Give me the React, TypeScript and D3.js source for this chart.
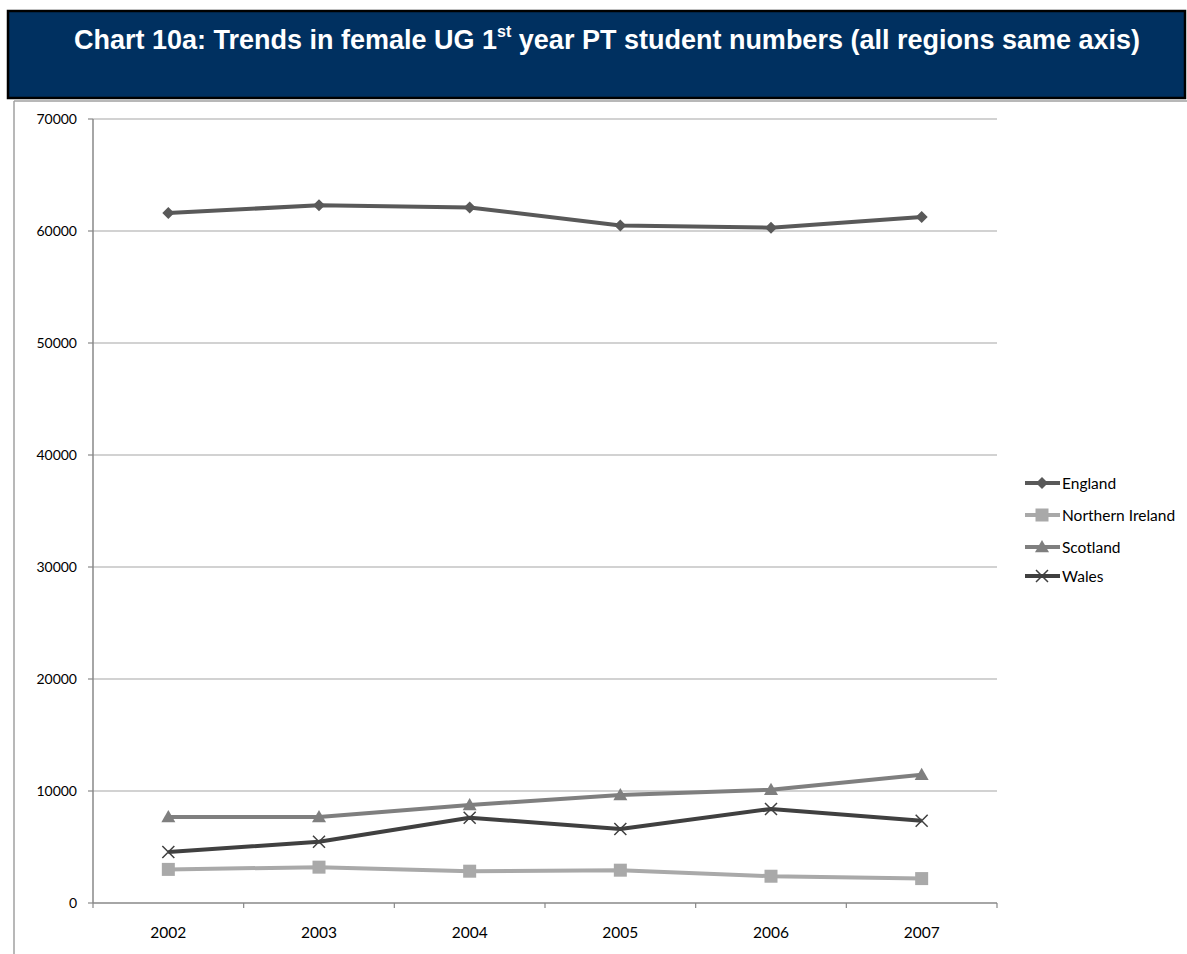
import React from "react";
import * as d3 from "d3";

const years = ["2002", "2003", "2004", "2005", "2006", "2007"];
const england = [61600, 62300, 62100, 60500, 60300, 61250];
const northernIreland = [3000, 3200, 2840, 2930, 2390, 2180];
const scotland = [7680, 7680, 8750, 9650, 10120, 11450];
const wales = [4550, 5470, 7620, 6600, 8400, 7340];
const yTicks = [0, 10000, 20000, 30000, 40000, 50000, 60000, 70000];

const seriesNames = ["England", "Northern Ireland", "Scotland", "Wales"];
const seriesColors = ["#595959", "#a9a9a9", "#7f7f7f", "#404040"];
const seriesMarkers = ["diamond", "square", "triangle", "cross"];

const W = 1187;
const H = 954;
const left = 93;
const right = 997;
const top = 119;
const bottom = 903;

function Marker({ kind, x, y, color }: { kind: string; x: number; y: number; color: string }) {
  if (kind === "diamond") {
    const s = 6;
    return <path d={`M${x},${y - s}L${x + s},${y}L${x},${y + s}L${x - s},${y}Z`} fill={color} />;
  }
  if (kind === "square") {
    const s = 6.5;
    return <rect x={x - s} y={y - s} width={2 * s} height={2 * s} fill={color} />;
  }
  if (kind === "triangle") {
    const s = 7;
    return <path d={`M${x},${y - s}L${x + s},${y + s * 0.75}L${x - s},${y + s * 0.75}Z`} fill={color} />;
  }
  const s = 6;
  return (
    <path
      d={`M${x - s},${y - s}L${x + s},${y + s}M${x - s},${y + s}L${x + s},${y - s}`}
      stroke={color}
      strokeWidth={1.5}
      fill="none"
    />
  );
}

export default function App() {
  const x = d3.scaleBand<string>().domain(years).range([left, right]).padding(0);
  const y = d3.scaleLinear().domain([0, 70000]).range([bottom, top]);
  const cx = (yr: string) => (x(yr) as number) + x.bandwidth() / 2;
  const data = [england, northernIreland, scotland, wales];
  const line = d3
    .line<number>()
    .x((_, i) => cx(years[i]))
    .y((d) => y(d));

  const legendY = [483, 515, 547, 576];
  const font = "Lato, 'Open Sans', sans-serif";

  return (
    <svg
      width={W}
      height={H}
      style={{ position: "absolute", left: 0, top: 0, background: "#fff" }}
    >
      {/* title banner */}
      <rect x={8} y={11} width={1177} height={87} fill="#003060" stroke="#000" strokeWidth={2.5} />
      <text
        x={607}
        y={49}
        textAnchor="middle"
        fill="#fff"
        fontFamily="'Liberation Sans', Arial, sans-serif"
        fontWeight="bold"
        fontSize={27}
      >
        Chart 10a: Trends in female UG 1
        <tspan fontSize={16} dy={-12}>st</tspan>
        <tspan dy={12}> year PT student numbers (all regions same axis)</tspan>
      </text>

      {/* chart area border */}
      <line x1={14} y1={101} x2={W} y2={101} stroke="#a0a0a0" strokeWidth={1.5} />
      <line x1={14} y1={101} x2={14} y2={H} stroke="#a0a0a0" strokeWidth={1.5} />

      {/* gridlines */}
      {yTicks.map((t) => (
        <g key={t}>
          {t > 0 && <line x1={left} x2={right} y1={y(t)} y2={y(t)} stroke="#a6a6a6" strokeWidth={1.2} />}
          <line x1={left - 5} x2={left} y1={y(t)} y2={y(t)} stroke="#888" strokeWidth={1.2} />
          <text
            x={77}
            y={y(t) + 5}
            textAnchor="end"
            fontFamily={font}
            fontSize={14}
            fill="#000"
          >
            {t}
          </text>
        </g>
      ))}

      {/* axes */}
      <line x1={left} x2={left} y1={top} y2={bottom} stroke="#888" strokeWidth={1.5} />
      <line x1={left} x2={right} y1={bottom} y2={bottom} stroke="#888" strokeWidth={1.5} />
      {years.map((yr) => (
        <line
          key={"t" + yr}
          x1={x(yr) as number}
          x2={x(yr) as number}
          y1={bottom}
          y2={bottom + 5}
          stroke="#888"
          strokeWidth={1.2}
        />
      ))}
      <line x1={right} x2={right} y1={bottom} y2={bottom + 5} stroke="#888" strokeWidth={1.2} />
      {years.map((yr) => (
        <text
          key={"l" + yr}
          x={cx(yr)}
          y={938}
          textAnchor="middle"
          fontFamily={font}
          fontSize={15.5}
          fill="#000"
        >
          {yr}
        </text>
      ))}

      {/* series */}
      {data.map((vals, si) => (
        <g key={seriesNames[si]}>
          <path d={line(vals) || ""} fill="none" stroke={seriesColors[si]} strokeWidth={4} strokeLinejoin="round" />
          {vals.map((v, i) => (
            <Marker key={i} kind={seriesMarkers[si]} x={cx(years[i])} y={y(v)} color={seriesColors[si]} />
          ))}
        </g>
      ))}

      {/* legend */}
      {seriesNames.map((name, si) => (
        <g key={"lg" + name}>
          <line x1={1025} x2={1060} y1={legendY[si]} y2={legendY[si]} stroke={seriesColors[si]} strokeWidth={4} />
          <Marker kind={seriesMarkers[si]} x={1042} y={legendY[si]} color={seriesColors[si]} />
          <text x={1062} y={legendY[si] + 6} fontFamily={font} fontSize={15.5} fill="#000">
            {name}
          </text>
        </g>
      ))}
    </svg>
  );
}
